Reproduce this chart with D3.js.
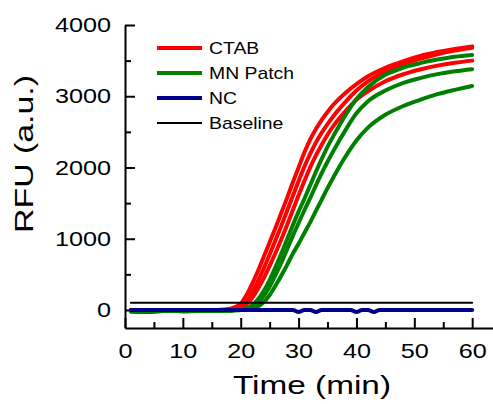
<!DOCTYPE html>
<html>
<head>
<meta charset="utf-8">
<script src="https://cdn.jsdelivr.net/npm/d3@7"></script>
<style>
  body { margin: 0; background: #fff; }
  text { font-family: "Liberation Sans", Arial, sans-serif; fill: #000; }
</style>
</head>
<body>
<div id="chart"></div>
<script>
// Data (time in min, RFU in a.u.)
var times = [1, 4, 7, 10, 13, 16, 18, 19, 20, 21, 22, 23, 24, 25, 26, 27, 28, 29, 30, 31, 32, 33, 34, 35, 36, 38, 40, 42, 45, 48, 51, 54, 57, 60];

var ctab1 = [0, 0, 0, -10, -5, 0, 15, 40, 90, 210, 370, 550, 750, 950, 1150, 1360, 1570, 1790, 2000, 2210, 2390, 2540, 2670, 2780, 2880, 3040, 3170, 3280, 3400, 3490, 3565, 3620, 3665, 3700];
var ctab2 = [0, 0, 0, -15, 0, 0, 5, 20, 50, 120, 250, 410, 590, 780, 980, 1180, 1390, 1600, 1810, 2010, 2190, 2350, 2490, 2610, 2720, 2910, 3080, 3210, 3350, 3450, 3525, 3590, 3640, 3680];
var ctab3 = [0, 0, 0, -10, 0, 0, 0, 10, 30, 80, 170, 300, 450, 620, 800, 990, 1190, 1400, 1610, 1810, 2000, 2170, 2320, 2460, 2580, 2780, 2950, 3070, 3210, 3305, 3375, 3430, 3470, 3500];

var patch1 = [-20, -25, -5, -15, -15, -10, -5, 0, 10, 25, 70, 150, 270, 420, 600, 790, 990, 1190, 1380, 1560, 1750, 1940, 2120, 2290, 2440, 2720, 2960, 3130, 3300, 3400, 3465, 3515, 3555, 3580];
var patch2 = [-20, -30, -10, -20, -15, -15, -10, -5, 0, 15, 40, 100, 200, 330, 490, 660, 850, 1040, 1220, 1400, 1570, 1750, 1920, 2080, 2230, 2510, 2760, 2930, 3080, 3185, 3255, 3310, 3350, 3380];
var patch3 = [-15, -20, -15, -15, -10, -10, -10, -5, 0, 5, 20, 50, 110, 210, 340, 480, 630, 790, 930, 1080, 1230, 1390, 1550, 1710, 1860, 2140, 2380, 2560, 2740, 2860, 2950, 3030, 3090, 3145];

var ncTimes = [1, 10, 20, 29, 30, 31, 32, 33, 34, 39, 40, 41, 42, 43, 44, 50, 60];
var ncValues = [0, 0, 0, 0, -30, 0, 0, -30, 0, 0, -30, 0, 0, -30, 0, 0, 0];

var baselineTimes = [1, 60];
var baselineValues = [100, 100];

var legendLabels = ["CTAB", "MN Patch", "NC", "Baseline"];
var xTicks = [0, 10, 20, 30, 40, 50, 60];
var xMinorTicks = [5, 15, 25, 35, 45, 55];
var yTicks = [0, 1000, 2000, 3000, 4000];
var yMinorTicks = [500, 1500, 2500, 3500];

// Set up the chart
var svgWidth = 493;
var svgHeight = 404;

var svg = d3.select("#chart")
  .append("svg")
  .attr("width", svgWidth)
  .attr("height", svgHeight);

var xScale = d3.scaleLinear().domain([0, 63.6]).range([125, 493]);
var yScale = d3.scaleLinear().domain([-253, 4000]).range([328, 25]);

// stretch text horizontally to match the wide lettering of the original
function stretch(sel, k) {
  sel.each(function () {
    var w = this.getComputedTextLength();
    d3.select(this).attr("textLength", w * k).attr("lengthAdjust", "spacingAndGlyphs");
  });
}

// Axes (ticks point inward)
svg.append("g")
  .attr("transform", "translate(0,328)")
  .call(d3.axisBottom(xScale).tickValues(xTicks).tickFormat(d3.format("d"))
    .tickSizeInner(-10).tickSizeOuter(0).tickPadding(15));

svg.append("g")
  .attr("transform", "translate(0,328)")
  .call(d3.axisBottom(xScale).tickValues(xMinorTicks).tickSizeInner(-6).tickSizeOuter(0).tickFormat(""))
  .select(".domain").remove();

svg.append("g")
  .attr("transform", "translate(125,0)")
  .call(d3.axisLeft(yScale).tickValues(yTicks).tickFormat(d3.format("d"))
    .tickSizeInner(-10).tickSizeOuter(0).tickPadding(14));

svg.append("g")
  .attr("transform", "translate(125,0)")
  .call(d3.axisLeft(yScale).tickValues(yMinorTicks).tickSizeInner(-6).tickSizeOuter(0).tickFormat(""))
  .select(".domain").remove();

svg.selectAll(".domain, .tick line")
  .attr("stroke", "#000")
  .attr("stroke-width", 2);

svg.selectAll(".tick text")
  .attr("font-size", "21px")
  .attr("font-family", "Liberation Sans, Arial, sans-serif")
  .attr("fill", "#000")
  .call(stretch, 1.2);

// Axis titles
svg.append("text")
  .attr("x", 312)
  .attr("y", 394)
  .attr("text-anchor", "middle")
  .attr("font-size", "26px")
  .attr("textLength", 158)
  .attr("lengthAdjust", "spacingAndGlyphs")
  .text("Time (min)");

svg.append("text")
  .attr("transform", "translate(33,154) rotate(-90)")
  .attr("text-anchor", "middle")
  .attr("font-size", "26px")
  .attr("textLength", 158)
  .attr("lengthAdjust", "spacingAndGlyphs")
  .text("RFU (a.u.)");

// Curves
var line = d3.line()
  .x(function (d) { return xScale(d[0]); })
  .y(function (d) { return yScale(d[1]); })
  .curve(d3.curveMonotoneX);

function drawSeries(xs, ys, color, width) {
  svg.append("path")
    .datum(d3.zip(xs, ys))
    .attr("d", line)
    .attr("fill", "none")
    .attr("stroke", color)
    .attr("stroke-width", width)
    .attr("stroke-linejoin", "round")
    .attr("stroke-linecap", "round");
}

[ctab1, ctab2, ctab3].forEach(function (s) { drawSeries(times, s, "#ff0000", 4); });
[patch1, patch2, patch3].forEach(function (s) { drawSeries(times, s, "#008000", 4); });
drawSeries(baselineTimes, baselineValues, "#000000", 2);
drawSeries(ncTimes, ncValues, "#00008b", 4);

// Legend
var legendColors = ["#ff0000", "#008000", "#00008b", "#000000"];
var legendWidths = [4, 4, 4, 2];

var legend = svg.selectAll(".legend")
  .data(legendLabels)
  .enter()
  .append("g")
  .attr("class", "legend")
  .attr("transform", function (d, i) { return "translate(157," + (48 + i * 25) + ")"; });

legend.append("line")
  .attr("x1", 0)
  .attr("x2", 45)
  .attr("stroke", function (d, i) { return legendColors[i]; })
  .attr("stroke-width", function (d, i) { return legendWidths[i]; });

legend.append("text")
  .attr("x", 52)
  .attr("y", 6)
  .attr("font-size", "17px")
  .text(function (d) { return d; })
  .call(stretch, 1.14);
</script>
</body>
</html>
